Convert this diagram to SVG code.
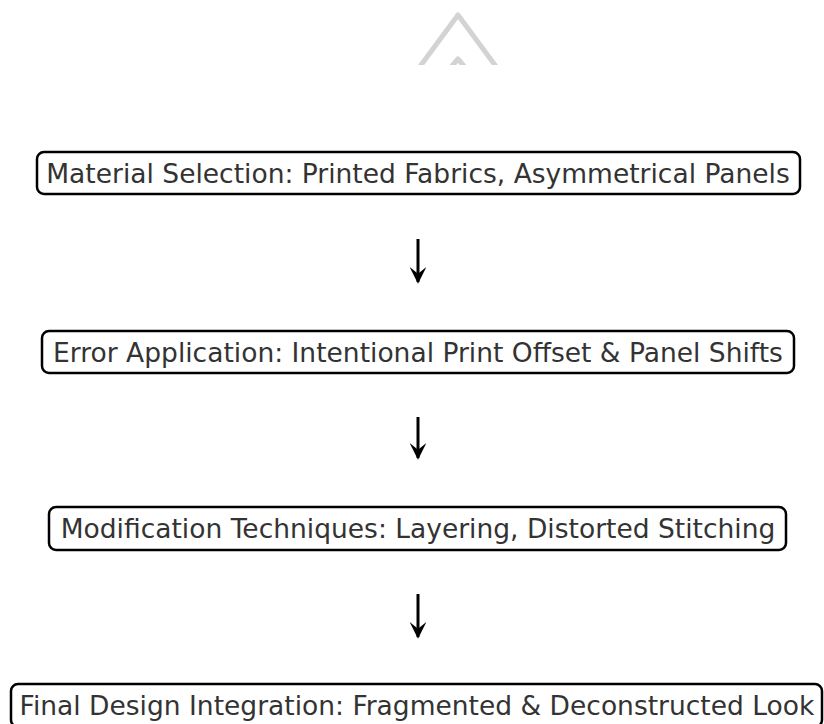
<svg xmlns="http://www.w3.org/2000/svg" width="824" height="724" viewBox="0 0 824 724">
<style>
.box{fill:#ffffff;stroke:#000000;stroke-width:2.5}
.lbl{font-family:"DejaVu Sans",sans-serif;font-size:26.5px;fill:#333333;text-anchor:middle}
.conn{stroke:#000000;stroke-width:3;fill:none}
</style>
<defs>
<marker id="ah" viewBox="0 0 10 10" refX="9" refY="5" markerWidth="5.5" markerHeight="5.5" orient="auto" markerUnits="strokeWidth">
<path d="M0,0 L10,5 L0,10 L4,5 Z" fill="#000000"/>
</marker>
<clipPath id="topclip"><rect x="0" y="0" width="824" height="65"/></clipPath>
</defs>
<rect width="824" height="724" fill="#ffffff"/>
<g id="icon" clip-path="url(#topclip)" fill="none" stroke="#d3d3d3" stroke-width="5" stroke-linejoin="round">
<path d="M410,80 L458,15 L506,80"/>
<path d="M440,80 L458,59 L476,80"/>
</g>
<g id="connectors">
<line class="conn" x1="418" y1="239" x2="418" y2="282" marker-end="url(#ah)"/>
<line class="conn" x1="418" y1="417" x2="418" y2="458" marker-end="url(#ah)"/>
<line class="conn" x1="418" y1="594" x2="418" y2="637" marker-end="url(#ah)"/>
</g>
<g id="n1">
<rect class="box" x="37" y="152" width="763" height="42" rx="7"/>
<text class="lbl" x="418" y="182.5">Material Selection: Printed Fabrics, Asymmetrical Panels</text>
</g>
<g id="n2">
<rect class="box" x="42" y="331" width="752" height="42" rx="7"/>
<text class="lbl" x="418" y="361.5">Error Application: Intentional Print Offset &amp; Panel Shifts</text>
</g>
<g id="n3">
<rect class="box" x="49" y="507" width="737" height="43" rx="7"/>
<text class="lbl" x="418" y="538">Modification Techniques: Layering, Distorted Stitching</text>
</g>
<g id="n4">
<rect class="box" x="11" y="684" width="811" height="43" rx="7"/>
<text class="lbl" x="417" y="715">Final Design Integration: Fragmented &amp; Deconstructed Look</text>
</g>
</svg>
